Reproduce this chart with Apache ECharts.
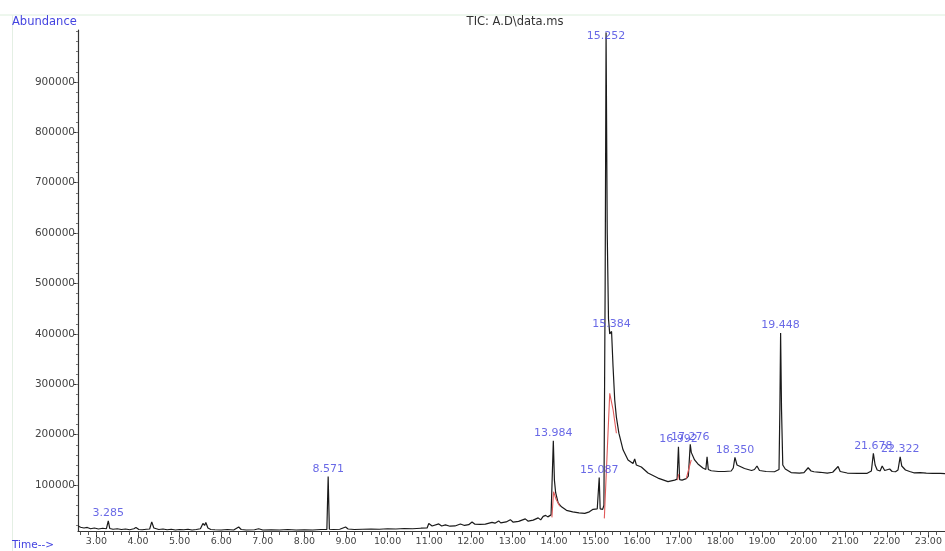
<!DOCTYPE html>
<html>
<head>
<meta charset="utf-8">
<script src="https://cdn.jsdelivr.net/npm/echarts@6/dist/echarts.min.js"></script>
<style>html,body{margin:0;padding:0;background:#fff}#c{width:945px;height:551px}</style>
</head>
<body>
<div id="c"></div>
<script>
// Retention time (min) and abundance of the TIC trace
const times = [
 2.56,2.62,2.70,2.78,2.86,2.95,3.05,3.15,3.24,3.285,3.32,3.40,3.50,3.60,3.70,3.80,3.90,3.95,4.02,4.10,4.20,4.28,4.33,4.38,4.50,4.60,4.70,4.80,4.90,5.00,5.10,5.20,5.30,5.40,5.50,5.56,5.60,5.63,5.68,5.75,5.85,6.00,6.15,6.30,6.42,6.48,6.60,6.80,6.90,7.00,7.20,7.40,7.60,7.80,8.00,8.20,8.40,8.54,8.571,8.60,8.70,8.85,8.99,9.05,9.20,9.40,9.60,9.80,10.00,10.20,10.40,10.60,10.80,10.95,10.99,11.07,11.23,11.30,11.39,11.50,11.62,11.75,11.85,11.95,12.03,12.10,12.22,12.35,12.51,12.58,12.67,12.72,12.85,12.95,13.02,13.15,13.31,13.38,13.50,13.62,13.68,13.74,13.80,13.85,13.93,13.984,14.01,14.04,14.10,14.18,14.30,14.45,14.60,14.74,14.85,14.94,15.04,15.087,15.11,15.17,15.20,15.23,15.252,15.28,15.31,15.34,15.384,15.42,15.46,15.50,15.56,15.66,15.78,15.90,15.94,15.98,16.10,16.26,16.50,16.74,16.90,16.96,16.992,17.02,17.08,17.18,17.23,17.276,17.30,17.38,17.46,17.58,17.65,17.68,17.71,17.78,17.95,18.10,18.26,18.31,18.35,18.40,18.58,18.75,18.82,18.88,18.94,19.10,19.30,19.41,19.43,19.448,19.47,19.50,19.56,19.70,19.90,20.01,20.11,20.18,20.25,20.40,20.57,20.70,20.83,20.88,21.05,21.30,21.53,21.63,21.678,21.72,21.77,21.84,21.89,21.95,21.99,22.07,22.13,22.21,22.27,22.322,22.36,22.45,22.55,22.65,22.80,22.95,23.10,23.29,23.40
];
const abundance = [
 19000,16500,15000,16000,13500,15000,13000,14500,13500,29000,14000,12500,13500,12000,13000,11500,13500,16000,12000,11500,12500,13000,27000,15000,12000,13000,11500,12500,11000,12000,11500,12500,11000,12000,13500,24000,20000,26000,15000,12000,11500,11000,12000,11000,17000,12000,11000,11500,13500,11000,11500,11000,12000,11000,11500,11000,12000,12000,117000,12500,12000,12500,17000,13000,12000,12500,13000,12500,13500,13000,14000,13500,14500,15000,24000,19000,23000,19000,21000,18500,19000,23000,20000,21500,27000,22500,22000,22500,26000,24500,29000,25000,27000,31500,26500,28000,33000,28500,30500,35000,31000,38000,40000,37000,41000,188000,110000,85000,65000,57000,50000,47000,45000,44000,47000,52000,53000,115000,53000,52000,60000,500000,998000,600000,430000,400000,405000,335000,269000,235000,203000,170000,150000,143000,152000,140000,136000,124000,114000,107000,110000,112000,176000,111000,110000,113000,118000,181000,165000,150000,142000,134000,131000,156000,131000,128500,127000,127000,128000,134000,155000,140000,133000,129000,131000,138000,129000,127000,126500,131000,250000,402000,250000,140000,132000,125000,124000,125000,134500,128000,126500,125500,124000,125500,137000,127000,124000,123500,123500,128000,163000,140000,130000,128000,138000,129000,126500,132000,127000,126500,130000,156000,138000,130000,127000,124500,125000,124000,123500,123500,123000
];
// Red integration marks (null breaks the line)
const redTimes  = [13.95,13.99,14.05,14.14,null,15.21,15.34,15.42,15.50,null,16.97,17.00,null,17.18,17.25,17.30];
const redValues = [36000,87000,72000,58000,null,34000,282000,250000,203000,null,110000,122000,null,113000,135000,150000];
// Labelled peaks
const peakNames = ['3.285','8.571','13.984','15.087','15.252','15.384','16.992','17.276','18.350','19.448','21.678','22.322'];
const peakTimes = [3.285,8.571,13.984,15.087,15.252,15.384,16.992,17.276,18.35,19.448,21.678,22.322];
// Axis tick values
const xTickValues = [3,4,5,6,7,8,9,10,11,12,13,14,15,16,17,18,19,20,21,22,23];
const yTickValues = [100000,200000,300000,400000,500000,600000,700000,800000,900000];

const xMinor = []; for (let v = 2.6; v <= 23.41; v += 0.2) xMinor.push(+v.toFixed(1));
const yMinor = []; for (let v = 20000; v <= 1000000; v += 20000) yMinor.push(v);

const FONT = 'DejaVu Sans';
const BLUE = '#4444e0';
const X_MIN = 2.557, X_MAX = 23.4, Y_MIN = 8000, Y_MAX = 1003000;

const trace = times.map((t, i) => [t, abundance[i]]);
const red = redTimes.map((t, i) => t === null ? [null, null] : [t, redValues[i]]);
const labels = peakTimes.map((t, i) => {
  const item = { value: [t, abundance[times.indexOf(t)]], name: peakNames[i] };
  if (peakNames[i] === '15.252') item.label = { offset: [0, 11] };
  return item;
});

const chart = echarts.init(document.getElementById('c'), null, { renderer: 'canvas' });
chart.setOption({
  animation: false,
  backgroundColor: '#fff',
  grid: { left: 78, right: -3, top: 30, bottom: 19.5, containLabel: false },
  xAxis: [{
    type: 'value', min: X_MIN, max: X_MAX, position: 'bottom',
    axisLine: { show: true, lineStyle: { color: '#333', width: 1.2 } },
    axisTick: { show: true, customValues: xTickValues, length: 6, lineStyle: { color: '#333' } },
    axisLabel: { customValues: xTickValues, formatter: v => v.toFixed(2), color: '#444',
      fontFamily: FONT, fontSize: 9.5, margin: 5 },
    splitLine: { show: false }
  }, {
    type: 'value', min: X_MIN, max: X_MAX, position: 'bottom', gridIndex: 0,
    axisLine: { show: false },
    axisTick: { show: true, customValues: xMinor, length: 3.5, lineStyle: { color: '#555' } },
    axisLabel: { show: false }, splitLine: { show: false }
  }],
  yAxis: [{
    type: 'value', min: Y_MIN, max: Y_MAX, position: 'left',
    axisLine: { show: true, lineStyle: { color: '#333', width: 1.2 } },
    axisTick: { show: true, customValues: yTickValues, length: 4, lineStyle: { color: '#333' } },
    axisLabel: { customValues: yTickValues, formatter: v => String(v), color: '#444',
      fontFamily: FONT, fontSize: 10.5, margin: 3 },
    splitLine: { show: false }
  }, {
    type: 'value', min: Y_MIN, max: Y_MAX, position: 'left', gridIndex: 0,
    axisLine: { show: false },
    axisTick: { show: true, customValues: yMinor, length: 2, lineStyle: { color: '#777' } },
    axisLabel: { show: false }, splitLine: { show: false }
  }],
  series: [{
    type: 'line', data: trace, showSymbol: false, symbol: 'none',
    lineStyle: { color: '#1a1a1a', width: 1.2 }, z: 2, silent: true
  }, {
    type: 'line', data: red, showSymbol: false, symbol: 'none', connectNulls: false,
    lineStyle: { color: '#e05a5a', width: 1.1 }, z: 3, silent: true
  }, {
    type: 'scatter', data: labels, symbolSize: 0, z: 4, silent: true,
    label: { show: true, position: 'top', distance: 2, formatter: p => p.name,
      color: BLUE, fontFamily: FONT, fontSize: 11 }
  }],
  graphic: [
    { type: 'line', shape: { x1: 0, y1: 15, x2: 945, y2: 15 }, style: { stroke: '#dcefdc', lineWidth: 1 }, silent: true },
    { type: 'line', shape: { x1: 12.5, y1: 15, x2: 12.5, y2: 551 }, style: { stroke: '#e4efe4', lineWidth: 1 }, silent: true },
    { type: 'text', left: 12, top: 16, style: { text: 'Abundance', fill: BLUE, font: '11.5px "DejaVu Sans"' } },
    { type: 'text', left: 12, top: 540, style: { text: 'Time-->', fill: BLUE, font: '10.5px "DejaVu Sans"' } },
    { type: 'text', x: 515, y: 22, style: { text: 'TIC: A.D\\data.ms', fill: '#333', font: '11.5px "DejaVu Sans"', align: 'center', verticalAlign: 'middle' } }
  ]
});
</script>
</body>
</html>
